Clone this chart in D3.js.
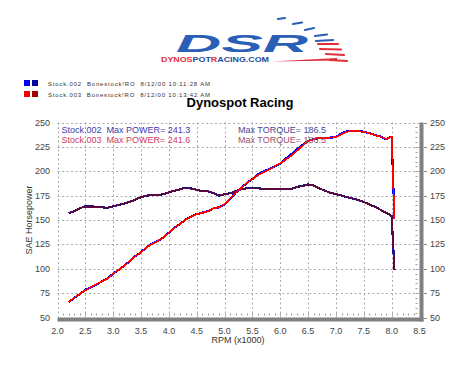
<!DOCTYPE html>
<html>
<head>
<meta charset="utf-8">
<script src="https://cdn.jsdelivr.net/npm/d3@7"></script>
<style>
  body { margin: 0; background: #fff; }
  svg { display: block; font-family: Arial, "Liberation Sans", sans-serif; }
</style>
</head>
<body>
<svg width="462" height="371"></svg>
<script>
// rpm (x1000) sample points
const rpm = [2.2, 2.3, 2.4, 2.5, 2.6, 2.7, 2.8, 2.9, 3.0, 3.1, 3.2, 3.3, 3.4, 3.5, 3.6, 3.7, 3.8, 3.9,
  4.0, 4.1, 4.2, 4.3, 4.4, 4.5, 4.6, 4.7, 4.8, 4.9, 5.0, 5.1, 5.2, 5.3, 5.4, 5.5, 5.6, 5.7, 5.8, 5.9,
  6.0, 6.1, 6.2, 6.3, 6.4, 6.5, 6.6, 6.7, 6.8, 6.9, 7.0, 7.1, 7.2, 7.3, 7.4, 7.5, 7.6, 7.7, 7.8, 7.9,
  8.0, 8.05];

// Stock.002 (blue)
const power002 = [66, 70, 74, 78.5, 81, 84, 87, 90, 95, 99, 103, 108, 113, 117, 122, 126, 128.5, 132,
  137, 142, 146, 150.5, 153.5, 156, 157.5, 159, 162, 163, 166, 172, 178, 183, 188, 192, 197, 200, 202, 205,
  208, 213, 217.5, 222.5, 227, 231, 233, 234, 234.5, 234.5, 235, 239, 241, 241, 241.3, 240.5, 239, 237, 235.5, 233,
  235.5, 152];
const torque002 = [157, 159, 162, 164, 164, 163.5, 163, 162.5, 164, 165.5, 167, 168.5, 171, 173.5, 175, 175.5, 175.5, 176.5,
  178.5, 180, 181.5, 183, 182.5, 181, 179.5, 179.5, 177.5, 175, 176.5, 177.5, 179.5, 181.5, 182.5, 182.5, 182.5, 182, 181.5, 181.5,
  181.5, 181.5, 182, 184, 185, 186.5, 185.5, 182.5, 180, 178, 176.5, 175, 173.5, 172, 170.5, 168.5, 166, 163.5, 160.5, 157.5,
  154, 99];

// Stock.003 (red)
const power003 = [66, 70, 74, 78, 81, 84, 87, 90, 95, 99, 103, 108, 113, 117, 122, 125.5, 128.5, 132,
  137, 142, 146, 150.5, 153, 156, 157.5, 159, 162, 163, 166, 172, 178, 183, 188, 192, 196, 199, 202, 205,
  208, 212, 216, 221, 226, 231, 233, 234, 234.5, 234.5, 235, 238, 240.5, 241.6, 241, 240.5, 239, 237, 235.5, 233,
  235.5, 151];
const torque003 = [157, 159, 162, 163.5, 163.5, 163.5, 163, 162.5, 164, 165.5, 167, 168.5, 171, 173.5, 175, 175.5, 175.5, 176.5,
  178.5, 180, 181.5, 182.5, 182, 181, 179.5, 179.5, 177.5, 175, 176.5, 177.5, 179.5, 181.5, 182.5, 182.5, 182.5, 182, 181.5, 181.5,
  181.5, 181.5, 182, 184, 184.5, 186.5, 185.5, 182.5, 180, 178, 176.5, 175, 173.5, 172, 170.5, 168.5, 166, 163.5, 160.5, 157.5,
  154, 99];

const legendRows = [
  { label: "Stock.002  Bonestock!RO  8/12/00 10:11:28 AM", colors: ["#0000ee", "#0000a0"] },
  { label: "Stock.003  Bonestock!RO  8/12/00 10:13:42 AM", colors: ["#ee0000", "#a00000"] }
];
const xTicks = [2.0, 2.5, 3.0, 3.5, 4.0, 4.5, 5.0, 5.5, 6.0, 6.5, 7.0, 7.5, 8.0, 8.5];
const yTicks = [50, 75, 100, 125, 150, 175, 200, 225, 250];

const svg = d3.select("svg");

const x = d3.scaleLinear().domain([2.0, 8.5]).range([57.5, 419.5]);
const y = d3.scaleLinear().domain([50, 250]).range([317.5, 122.5]);

// ---- logo ----
const logo = svg.append("g");
const speed = [
  [278, 19, 285, 18, "#2a5fb5"], [293, 24, 302, 22.5, "#2a5fb5"], [305, 30, 314, 28, "#2a5fb5"],
  [315, 36, 327, 34.5, "#2a5fb5"], [316, 41, 333, 40, "#2a5fb5"],
  [318, 44, 338, 44, "#e0303a"], [320, 49, 341, 49.5, "#e0303a"], [326, 54, 344, 55, "#e0303a"],
  [330, 60, 347, 61, "#e0303a"]
];
logo.selectAll("line")
  .data(speed)
  .join("line")
  .attr("x1", d => d[0]).attr("y1", d => d[1])
  .attr("x2", d => d[2]).attr("y2", d => d[3])
  .attr("stroke", d => d[4])
  .attr("stroke-width", 2.2)
  .attr("stroke-linecap", "round");
logo.append("path")
  .attr("d", "M272,61.5 L337,58 L337,60.5 Z")
  .attr("fill", "#e0303a");
logo.append("text")
  .attr("x", 176).attr("y", 52)
  .attr("textLength", 132).attr("lengthAdjust", "spacingAndGlyphs")
  .style("font-size", "24px").style("font-weight", "900").style("font-style", "italic")
  .style("fill", "#2a5fb5")
  .text("DSR");
const url = logo.append("text")
  .attr("x", 161).attr("y", 62)
  .attr("textLength", 108).attr("lengthAdjust", "spacingAndGlyphs")
  .style("font-size", "6.5px").style("font-weight", "bold");
[["DYNO", "#e0303a"], ["S", "#e0303a"], ["POT", "#234c9a"], ["R", "#e0303a"], ["ACING.COM", "#234c9a"]]
  .forEach(p => url.append("tspan").style("fill", p[1]).text(p[0]));

// ---- legend ----
const leg = svg.append("g");
legendRows.forEach((r, i) => {
  const yy = 80 + i * 11;
  r.colors.forEach((c, j) => {
    leg.append("rect").attr("x", 24 + j * 8).attr("y", yy).attr("width", 6).attr("height", 6).attr("fill", c);
  });
  leg.append("text")
    .attr("x", 48).attr("y", yy + 6)
    .attr("textLength", 162).attr("lengthAdjust", "spacing")
    .style("font-size", "6px").style("white-space", "pre").style("fill", "#333")
    .text(r.label);
});

svg.append("text")
  .attr("x", 240).attr("y", 107)
  .attr("text-anchor", "middle")
  .style("font-size", "13px").style("font-weight", "bold")
  .text("Dynospot Racing");

// ---- grid ----
const grid = svg.append("g")
  .attr("stroke", "#aaa")
  .attr("stroke-dasharray", "2,2.5")
  .attr("stroke-width", 1);
grid.selectAll("line.v")
  .data(xTicks.filter(d => d < 8.5))
  .join("line")
  .attr("x1", d => Math.round(x(d)) + 0.5).attr("x2", d => Math.round(x(d)) + 0.5)
  .attr("y1", y(250)).attr("y2", y(50));
grid.selectAll("line.h")
  .data(yTicks.filter(d => d > 50))
  .join("line")
  .attr("class", "h")
  .attr("x1", x(2.0)).attr("x2", x(8.5))
  .attr("y1", d => Math.round(y(d)) + 0.5).attr("y2", d => Math.round(y(d)) + 0.5);

// minor ticks
const minorX = d3.range(21, 85).map(d => d / 10);
svg.append("g").selectAll("line")
  .data(minorX)
  .join("line")
  .attr("x1", d => Math.round(x(d)) + 0.5).attr("x2", d => Math.round(x(d)) + 0.5)
  .attr("y1", y(50) - 4).attr("y2", y(50) - 2)
  .attr("stroke", "#999");
const minorY = d3.range(55, 250, 5);
svg.append("g").selectAll("line")
  .data(minorY)
  .join("line")
  .attr("x1", x(8.5) - 4).attr("x2", x(8.5) - 2)
  .attr("y1", d => Math.round(y(d)) + 0.5).attr("y2", d => Math.round(y(d)) + 0.5)
  .attr("stroke", "#999");

// frame (bottom and right)
svg.append("rect")
  .attr("x", x(2.0)).attr("y", y(50))
  .attr("width", x(8.5) - x(2.0) + 4).attr("height", 4)
  .attr("fill", "#808080");
svg.append("rect")
  .attr("x", x(8.5)).attr("y", y(250))
  .attr("width", 4).attr("height", y(50) - y(250) + 4)
  .attr("fill", "#808080");

// ---- axes ----
const tickStyle = sel => sel.style("font-size", "9px").style("fill", "#444");
svg.append("g").selectAll("text")
  .data(yTicks)
  .join("text")
  .attr("x", 50).attr("y", d => y(d) + 3)
  .attr("text-anchor", "end")
  .text(d => d)
  .call(tickStyle);
svg.append("g").selectAll("text")
  .data(yTicks)
  .join("text")
  .attr("x", 430).attr("y", d => y(d) + 3)
  .text(d => d)
  .call(tickStyle);
svg.append("g").selectAll("line")
  .data(yTicks)
  .join("line")
  .attr("x1", 424).attr("x2", 427)
  .attr("y1", d => Math.round(y(d)) + 0.5).attr("y2", d => Math.round(y(d)) + 0.5)
  .attr("stroke", "#888");
svg.append("g").selectAll("text")
  .data(xTicks)
  .join("text")
  .attr("x", d => x(d)).attr("y", 334)
  .attr("text-anchor", "middle")
  .text(d => d.toFixed(1))
  .call(tickStyle);

svg.append("text")
  .attr("x", 238).attr("y", 343)
  .attr("text-anchor", "middle")
  .style("font-size", "9px").style("fill", "#333")
  .text("RPM (x1000)");
svg.append("text")
  .attr("transform", "translate(32,220) rotate(-90)")
  .attr("text-anchor", "middle")
  .style("font-size", "9px").style("fill", "#333")
  .text("SAE Horsepower");

// ---- curves ----
const line = d3.line()
  .x(d => x(d[0]))
  .y(d => y(d[1]));
const series = [
  { values: torque002, color: "#18148c", w: 2.2 },
  { values: power002, color: "#0000ff", w: 2.2 },
  { values: torque003, color: "#5a0a3c", w: 1.6 },
  { values: power003, color: "#ff0000", w: 1.8 }
];
svg.append("g").selectAll("path")
  .data(series)
  .join("path")
  .attr("d", d => line(rpm.map((r, i) => [r, d.values[i]])))
  .attr("fill", "none")
  .attr("stroke", d => d.color)
  .attr("stroke-width", d => d.w)
  .attr("stroke-linejoin", "round")
  .style("shape-rendering", "crispEdges");

// ---- max labels ----
const maxLabels = [
  { x: 61.5, y: 133, text: "Stock.002  Max POWER= 241.3", color: "#3c3cb0" },
  { x: 61.5, y: 143, text: "Stock.003  Max POWER= 241.6", color: "#d03c64" },
  { x: 238, y: 133, text: "Max TORQUE= 186.5", color: "#4a4a90" },
  { x: 238, y: 143, text: "Max TORQUE= 186.5", color: "#9c5070" }
];
svg.append("g").selectAll("text")
  .data(maxLabels)
  .join("text")
  .attr("x", d => d.x).attr("y", d => d.y)
  .style("font-size", "9px")
  .style("white-space", "pre")
  .style("fill", d => d.color)
  .text(d => d.text);
</script>
</body>
</html>
